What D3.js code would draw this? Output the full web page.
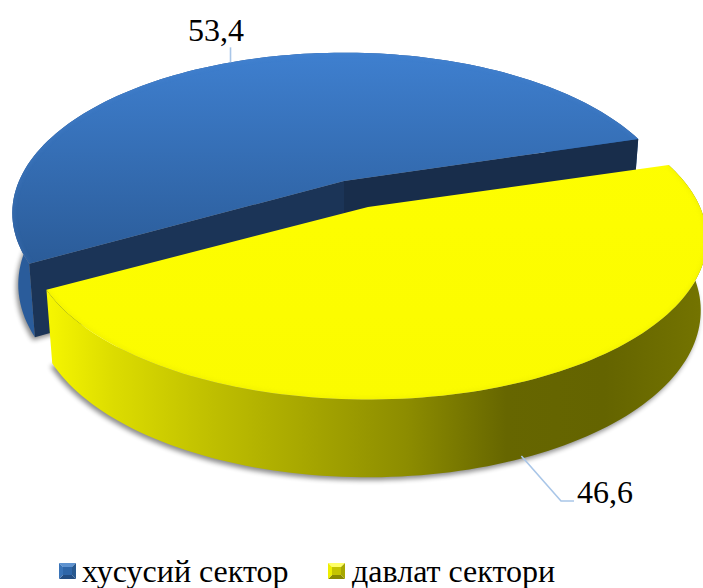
<!DOCTYPE html>
<html>
<head>
<meta charset="utf-8">
<script src="https://cdn.jsdelivr.net/npm/d3@7"></script>
<style>
html,body{margin:0;padding:0;background:#fff;}
svg{display:block;}
text{font-family:"Liberation Serif",serif;fill:#000;}
</style>
</head>
<body>
<svg id="c" width="703" height="588"></svg>
<script>
const categories = ["хусусий сектор", "давлат сектори"];
const values = [53.4, 46.6];
const valueLabels = ["53,4", "46,6"];
const topColors = [["#3f80d0", "#2b5c99"], ["#ffff00", "#fbfb00"]];

const W = 703, H = 588;
const svg = d3.select("#c");
const defs = svg.append("defs");

// pie layout in degrees clockwise from the far side of the disc
const startDeg = 241;
const pie = d3.pie().sort(null).value(d => d)
  .startAngle(startDeg * Math.PI / 180)
  .endAngle((startDeg + 360) * Math.PI / 180);
const arcs = pie(values);

// perspective disc projection
const radiusX = [325, 332], ry = 154, k = 0.2, depthBase = 70;
const apex = [[344, 181], [368, 207]];
function proj(i, a, r = 1, down = false) {
  const u = Math.sin(a) * r, v = -Math.cos(a) * r;
  const den = 1 - k * v;
  let x = radiusX[i] * u / den, y = ry * v / den;
  if (down) { x *= 0.982; y += depthBase / (1 - 0.1 * v); }
  return [apex[i][0] + x, apex[i][1] + y];
}
const sample = (a0, a1) => d3.range(0, 121).map(t => a0 + (a1 - a0) * t / 120);
const line = d3.line();

function topPath(i) {
  const d = arcs[i];
  return line([apex[i], ...sample(d.startAngle, d.endAngle).map(a => proj(i, a))]) + "Z";
}
function wallPath(i, a0, a1) {
  const s = sample(a0, a1);
  return line([...s.map(a => proj(i, a)), ...s.slice().reverse().map(a => proj(i, a, 1, true))]) + "Z";
}
function bottomPath(i) {
  const d = arcs[i];
  const apexDown = [apex[i][0], apex[i][1] + depthBase];
  return line([apexDown, ...sample(d.startAngle, d.endAngle).map(a => proj(i, a, 1, true))]) + "Z";
}

// gradients
topColors.forEach((c, i) => {
  const g = defs.append("linearGradient").attr("id", "top" + i)
    .attr("gradientUnits", "userSpaceOnUse")
    .attr("x1", 0).attr("x2", 0).attr("y1", 50).attr("y2", i ? 400 : 262);
  g.append("stop").attr("offset", 0).attr("stop-color", c[0]);
  g.append("stop").attr("offset", 1).attr("stop-color", c[1]);
});
const wallY = defs.append("linearGradient").attr("id", "wall1")
  .attr("gradientUnits", "userSpaceOnUse")
  .attr("x1", 48).attr("x2", 703).attr("y1", 0).attr("y2", 0);
[[0, "#f6f600"], [0.1, "#dcdc00"], [0.25, "#bfbf00"], [0.55, "#8c8c00"], [0.7, "#666600"], [0.85, "#646400"], [1, "#747400"]]
  .forEach(s => wallY.append("stop").attr("offset", s[0]).attr("stop-color", s[1]));

const blur = (id, dev) => defs.append("filter").attr("id", id)
  .attr("x", "-10%").attr("y", "-10%").attr("width", "120%").attr("height", "120%")
  .append("feGaussianBlur").attr("stdDeviation", dev);
blur("sh", 2.5);
blur("bev", 2);
arcs.forEach((d, i) => defs.append("clipPath").attr("id", "clip" + i).append("path").attr("d", topPath(i)));

function slice(i, wallFill, rimColor) {
  const d = arcs[i];
  svg.append("path").attr("d", bottomPath(i))
    .attr("transform", "translate(-2,3)")
    .attr("fill", "#000").attr("opacity", 0.45).attr("filter", "url(#sh)");
  svg.append("path").attr("d", wallPath(i, d.startAngle, d.endAngle)).attr("fill", wallFill);
  if (i === 0) {
    const ap = apex[0], apD = [ap[0], ap[1] + depthBase];
    const cut = (a, col) => {
      const t = proj(0, a), b = proj(0, a, 1, true);
      svg.append("path").attr("d", line([ap, t, b, apD]) + "Z").attr("fill", col);
    };
    cut(d.endAngle, "#182d4b");
    cut(d.startAngle, "#1b3457");
  }
  svg.append("path").attr("d", topPath(i)).attr("fill", `url(#top${i})`);
  svg.append("g").attr("clip-path", `url(#clip${i})`)
    .append("path").attr("d", line(sample(d.startAngle, d.endAngle).map(a => proj(i, a))))
    .attr("fill", "none").attr("stroke", rimColor).attr("stroke-width", 3)
    .attr("opacity", 0.22).attr("filter", "url(#bev)");
}
slice(0, "#2a5c9b", "#5a90d8");
slice(1, "url(#wall1)", "#c8c800");

// value labels with leader lines
const leaderShift = [-1.5, 0];
const mid = arcs.map((d, i) => (d.startAngle + d.endAngle) / 2 + leaderShift[i] * Math.PI / 180);
const leader = "#a9c6e8";
const p0 = proj(0, mid[0]);
svg.append("path").attr("d", line([p0, [p0[0], p0[1] - 15]]))
  .attr("fill", "none").attr("stroke", leader).attr("stroke-width", 1.6);
const p1 = proj(1, mid[1], 1, true);
svg.append("path").attr("d", line([[p1[0] - 2, p1[1] - 2], [561, 501], [574, 501]]))
  .attr("fill", "none").attr("stroke", leader).attr("stroke-width", 1.6);
svg.append("text").attr("x", 188).attr("y", 41).attr("font-size", 32).text(valueLabels[0]);
svg.append("text").attr("x", 577).attr("y", 503).attr("font-size", 32).text(valueLabels[1]);

// legend with bevelled markers
const legendX = [59, 328], legendTextX = [82, 352];
const bevel = [["#2f66a8", "#5f93d0", "#234d82", "#28588f", "#3a74b8"], ["#c4c400", "#ffff66", "#8a8a00", "#a8a800", "#eeee00"]];
categories.forEach((c, i) => {
  const x = legendX[i], y = 563, w = 17, h = 16, b = 4;
  const g = svg.append("g");
  const q = [x + b, y + b, x + w - b, y + h - b];
  g.append("path").attr("d", line([[x, y], [x + w, y], [q[2], q[1]], [q[0], q[1]]]) + "Z").attr("fill", bevel[i][1]);
  g.append("path").attr("d", line([[x, y + h], [x + w, y + h], [q[2], q[3]], [q[0], q[3]]]) + "Z").attr("fill", bevel[i][2]);
  g.append("path").attr("d", line([[x, y], [q[0], q[1]], [q[0], q[3]], [x, y + h]]) + "Z").attr("fill", bevel[i][4]);
  g.append("path").attr("d", line([[x + w, y], [q[2], q[1]], [q[2], q[3]], [x + w, y + h]]) + "Z").attr("fill", bevel[i][3]);
  g.append("rect").attr("x", q[0]).attr("y", q[1]).attr("width", q[2] - q[0]).attr("height", q[3] - q[1]).attr("fill", bevel[i][0]);
  svg.append("text").attr("x", legendTextX[i]).attr("y", 582).attr("font-size", 32).text(c);
});
</script>
</body>
</html>
